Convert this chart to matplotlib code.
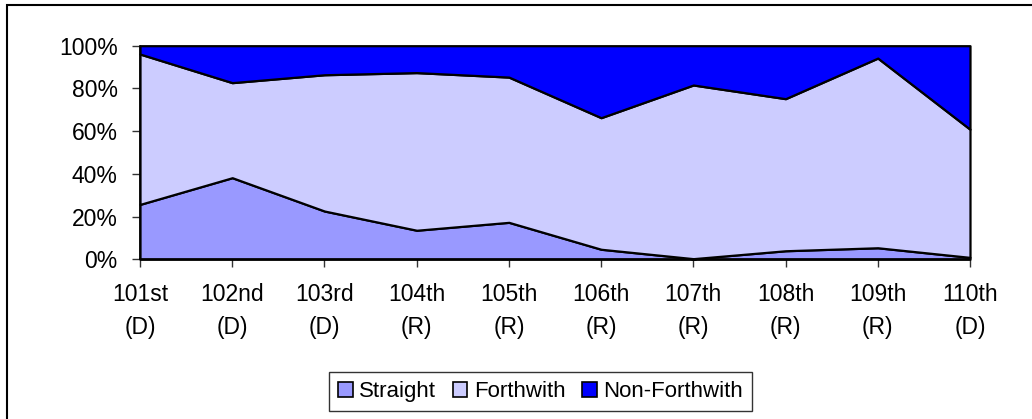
import matplotlib
matplotlib.use('Agg')
import matplotlib.pyplot as plt
from matplotlib.patches import Rectangle, Patch
from matplotlib.ticker import PercentFormatter
import numpy as np

plt.rcParams['font.family'] = ['Liberation Sans', 'DejaVu Sans']

# --- data (percent of rules per Congress) ---
congresses = ['101st', '102nd', '103rd', '104th', '105th',
              '106th', '107th', '108th', '109th', '110th']
parties = ['D', 'D', 'D', 'R', 'R', 'R', 'R', 'R', 'R', 'D']
straight = [25.7, 38.2, 22.6, 13.6, 17.3, 4.7, 0.3, 4.0, 5.4, 0.9]
forthwith = [70.4, 44.5, 63.8, 73.8, 68.0, 61.6, 81.3, 71.2, 88.8, 60.0]
non_forthwith = [3.9, 17.3, 13.6, 12.6, 14.7, 33.7, 18.4, 24.8, 5.8, 39.1]

series = [('Straight', straight, '#9999FF'),
          ('Forthwith', forthwith, '#CCCCFF'),
          ('Non-Forthwith', non_forthwith, '#0000FF')]

fig = plt.figure(figsize=(10.32, 4.19), dpi=100)
ax = fig.add_axes([0.13566, 0.38115, 0.80426, 0.50978])

x = np.arange(len(congresses))
total = np.array(straight) + np.array(forthwith) + np.array(non_forthwith)
base = np.zeros(len(x))
for name, vals, col in series:
    share = np.array(vals) / total
    ax.fill_between(x, base, base + share, facecolor=col, edgecolor='black',
                    linewidth=1.6, clip_on=False, zorder=2)
    base = base + share

ax.set_xlim(0, len(x) - 1)
ax.set_ylim(0, 1)
ax.set_yticks(np.linspace(0, 1, 6))
ax.yaxis.set_major_formatter(PercentFormatter(1.0, decimals=0))
ax.set_xticks(x)
ax.set_xticklabels([f'{c}\n({p})' for c, p in zip(congresses, parties)],
                   linespacing=1.55)

for s in ['top', 'right']:
    ax.spines[s].set_visible(False)
for s in ['left', 'bottom']:
    ax.spines[s].set_linewidth(1.2)
    ax.spines[s].set_zorder(3)
ax.tick_params(axis='both', length=6, width=1, color='#333333', labelsize=16.5)
ax.tick_params(axis='x', pad=11)
ax.tick_params(axis='y', pad=10)

handles = [Patch(facecolor=col, edgecolor='black', linewidth=1.2, label=name)
           for name, vals, col in series]
leg = fig.legend(handles=handles, loc='center', bbox_to_anchor=(0.524, 0.0656),
                 ncol=3, fontsize=16, frameon=True, fancybox=False,
                 handlelength=0.65, handleheight=0.65, handletextpad=0.3,
                 columnspacing=0.75, borderpad=0.4, borderaxespad=0)
leg.get_frame().set_edgecolor('black')
leg.get_frame().set_linewidth(1.0)

# outer chart border (left/top visible, rest cropped)
fig.patches.append(Rectangle((7 / 1032, -0.1), 1.2, 1.1 - 5 / 419,
                             transform=fig.transFigure, fill=False,
                             edgecolor='black', linewidth=1.5))

fig.savefig('out.png', dpi=100, facecolor='white')
